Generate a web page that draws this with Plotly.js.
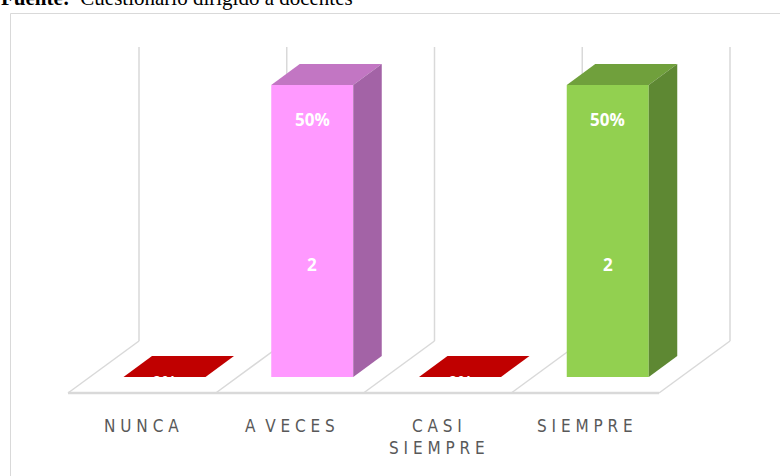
<!DOCTYPE html>
<html>
<head>
<meta charset="utf-8">
<script src="https://cdn.plot.ly/plotly-3.0.1.min.js"></script>
<style>html,body{margin:0;padding:0;background:#fff;}#chart{width:780px;height:476px;}</style>
</head>
<body>
<div id="chart"></div>
<script>
// ---- data ----
const categories = ['NUNCA', 'A VECES', 'CASI SIEMPRE', 'SIEMPRE'];
const tickLabels = ['N U N C A', 'A &nbsp;V E C E S', 'C A S I<br>S I E M P R E', 'S I E M P R E'];
const counts = [0, 2, 0, 2];
const frontColors = ['#C00000', '#FF99FF', '#C00000', '#92D050'];
const topColors   = ['#C00000', '#C276C3', '#C00000', '#70A03C'];
const sideColors  = ['#A00000', '#A363A6', '#A00000', '#5E8833'];
const sourceText = '<b>Fuente:</b>&nbsp; Cuestionario dirigido a docentes';

const total = counts.reduce((a, b) => a + b, 0);
const pctLabels = counts.map(c => Math.round(c / total * 100) + '%');

// ---- geometry (pixel based scale set-up) ----
const W = 780, H = 476;
const pxPerCat = 147.75, cat0px = 164.5;   // x scale
const pxPerUnit = 146, basePx = 377;       // y scale
const ux = px => px / pxPerCat;
const uy = px => px / pxPerUnit;
const xRange = [-cat0px / pxPerCat, (W - cat0px) / pxPerCat];
const yRange = [(basePx - H) / pxPerUnit, basePx / pxPerUnit];

const halfW = ux(41), depthX = ux(28.5), depthY = uy(21);
const floorFrontY = uy(-16), floorBackY = uy(36);
const floorFrontX0 = ux(68 - cat0px), floorDX = ux(71);
const gridTop = uy(basePx - 47);
const gridColor = '#D9D9D9';

const xs = categories.map((c, i) => i);

const shapes = [];
// chart border
shapes.push({type: 'rect', xref: 'paper', yref: 'paper',
  x0: 10.5 / W, x1: 1.05, y0: -0.05, y1: 1 - 13.5 / H,
  line: {color: gridColor, width: 1}, layer: 'below'});
// floor front edge
shapes.push({type: 'line', layer: 'below', x0: floorFrontX0, x1: floorFrontX0 + categories.length,
  y0: floorFrontY, y1: floorFrontY, line: {color: gridColor, width: 2.5}});
// floor dividers + back wall verticals
for (let k = 0; k <= categories.length; k++) {
  const fx = floorFrontX0 + k, bx = fx + floorDX;
  shapes.push({type: 'line', layer: 'below', x0: fx, y0: floorFrontY, x1: bx, y1: floorBackY,
    line: {color: gridColor, width: 1.5}});
  shapes.push({type: 'line', layer: 'below', x0: bx, y0: floorBackY, x1: bx, y1: gridTop,
    line: {color: gridColor, width: 1.5}});
}
// 3D faces of bars
counts.forEach((v, i) => {
  const l = xs[i] - halfW, r = xs[i] + halfW;
  shapes.push({type: 'path', layer: 'above', line: {width: 0}, fillcolor: topColors[i],
    path: `M${l},${v} L${r},${v} L${r + depthX},${v + depthY} L${l + depthX},${v + depthY} Z`});
  if (v > 0) {
    shapes.push({type: 'path', layer: 'above', line: {width: 0}, fillcolor: sideColors[i],
      path: `M${r},0 L${r + depthX},${depthY} L${r + depthX},${v + depthY} L${r},${v} Z`});
  }
});

const annotations = [];
counts.forEach((v, i) => {
  annotations.push({x: xs[i], y: v > 0 ? v - uy(34.5) : uy(-5), text: '<b>' + pctLabels[i] + '</b>',
    showarrow: false, font: {family: 'Open Sans', size: 17, color: '#FFFFFF'}, xanchor: 'center', yanchor: 'middle'});
  if (v > 0) {
    annotations.push({x: xs[i], y: v * 0.384, text: '<b>' + v + '</b>',
      showarrow: false, font: {family: 'Open Sans', size: 17, color: '#FFFFFF'}, xanchor: 'center', yanchor: 'middle'});
  }
  annotations.push({x: floorFrontX0 + i + 0.5, y: uy(basePx - 425), text: tickLabels[i],
    showarrow: false, font: {family: 'DejaVu Sans Condensed', size: 17, color: '#595959'},
    xanchor: 'center', yanchor: 'top', yshift: 11, align: 'center'});
});
annotations.push({xref: 'paper', yref: 'paper', x: -1 / W, y: 1 - 12 / H, xanchor: 'left', yanchor: 'bottom',
  text: sourceText, showarrow: false, font: {family: 'Liberation Serif', size: 21, color: '#000000'}});

const trace = {
  type: 'bar', x: xs, y: counts, width: halfW * 2,
  marker: {color: frontColors, line: {width: 0}},
  hoverinfo: 'skip', textposition: 'none'
};

const layout = {
  width: W, height: H, margin: {l: 0, r: 0, t: 0, b: 0},
  paper_bgcolor: '#FFFFFF', plot_bgcolor: '#FFFFFF', showlegend: false,
  xaxis: {range: xRange, visible: false, fixedrange: true},
  yaxis: {range: yRange, visible: false, fixedrange: true},
  shapes: shapes, annotations: annotations
};

Plotly.newPlot('chart', [trace], layout, {staticPlot: true, displayModeBar: false});
</script>
</body>
</html>
